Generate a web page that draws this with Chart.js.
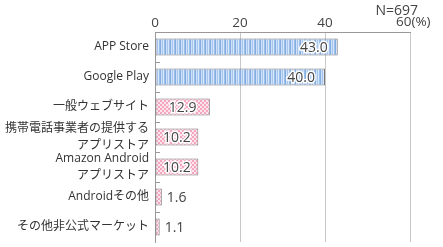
<!DOCTYPE html>
<html lang="ja">
<head>
  <meta charset="UTF-8" />
  <title>アプリ入手先</title>
  <script src="https://cdn.jsdelivr.net/npm/chart.js"></script>
  <style>
    html, body { margin: 0; padding: 0; background: #fff; }
    #wrap { width: 443px; height: 247px; position: relative; }
  </style>
</head>
<body>
  <div id="wrap"><canvas id="appChart"></canvas></div>

  <script>
    // data
    const categories = [
      "APP Store",
      "Google Play",
      "一般ウェブサイト",
      ["携帯電話事業者の提供する", "アプリストア"],
      ["Amazon Android", "アプリストア"],
      "Androidその他",
      "その他非公式マーケット"
    ];
    const shares = [43.0, 40.0, 12.9, 10.2, 10.2, 1.6, 1.1];
    const xTicks = [0, 20, 40, 60];
    const unitLabel = "(%)";
    const sampleNote = "N=697";

    const FONT = "'Open Sans', 'Noto Sans CJK JP', sans-serif";

    // stripe / dot fills
    function makePattern(kind) {
      const c = document.createElement("canvas");
      const g = c.getContext("2d");
      if (kind === "blue") {
        const cols = ["#86ade0", "#cfe1f8", "#a6c6ee", "#d8e7f9", "#9abfea"];
        c.width = cols.length; c.height = 4;
        cols.forEach((col, i) => { g.fillStyle = col; g.fillRect(i, 0, 1, 4); });
      } else {
        c.width = 4; c.height = 4;
        g.fillStyle = "#fde4ec"; g.fillRect(0, 0, 4, 4);
        g.fillStyle = "#f3a6bd";
        g.fillRect(0, 0, 2, 2); g.fillRect(2, 2, 2, 2);
      }
      return g.createPattern(c, "repeat");
    }
    const bluePat = makePattern("blue");
    const pinkPat = makePattern("pink");

    // short tick marks on the category axis
    const catTicks = {
      id: "catTicks",
      afterDraw(chart) {
        const ctx = chart.ctx, y = chart.scales.y, left = chart.chartArea.left;
        ctx.save();
        ctx.strokeStyle = "#999";
        ctx.lineWidth = 1;
        for (let i = 1; i < categories.length; i++) {
          const p = Math.round((y.getPixelForTick(i - 1) + y.getPixelForTick(i)) / 2) + 0.5;
          ctx.beginPath();
          ctx.moveTo(left, p);
          ctx.lineTo(left + 5, p);
          ctx.stroke();
        }
        ctx.restore();
      }
    };

    // values on the bars, N and unit
    const barText = {
      id: "barText",
      afterDatasetsDraw(chart) {
        const ctx = chart.ctx;
        const meta = chart.getDatasetMeta(0);
        ctx.save();
        ctx.font = "14px " + FONT;
        ctx.textBaseline = "middle";
        meta.data.forEach((bar, i) => {
          const txt = shares[i].toFixed(1);
          const w = ctx.measureText(txt).width;
          const len = bar.x - bar.base;
          if (len > w + 6) {
            let tx;
            ctx.textAlign = "center";
            if (len > 3 * w) tx = bar.x - 10 - w / 2;
            else tx = (bar.x + bar.base) / 2;
            ctx.lineWidth = 3;
            ctx.strokeStyle = "#fff";
            ctx.lineJoin = "round";
            ctx.strokeText(txt, tx, bar.y + 1);
            ctx.fillStyle = "#444";
            ctx.fillText(txt, tx, bar.y + 1);
          } else {
            ctx.textAlign = "left";
            ctx.fillStyle = "#444";
            ctx.fillText(txt, bar.x + 5, bar.y + 1);
          }
        });
        const area = chart.chartArea;
        const xs = chart.scales.x;
        ctx.font = "14px " + FONT;
        ctx.fillStyle = "#444";
        ctx.textAlign = "right";
        ctx.fillText(sampleNote, area.right + 8, 11);
        ctx.textAlign = "left";
        const lastX = xs.getPixelForValue(xTicks[xTicks.length - 1]);
        ctx.font = "13.5px " + FONT;
        ctx.fillText(String(xTicks[xTicks.length - 1]) + unitLabel, lastX - 14, 22);
        ctx.restore();
      }
    };

    new Chart(document.getElementById("appChart"), {
      type: "bar",
      data: {
        labels: categories,
        datasets: [{
          data: shares,
          backgroundColor: shares.map((v, i) => i < 2 ? bluePat : pinkPat),
          borderColor: "#7a7a7a",
          borderWidth: 1,
          borderSkipped: false,
          barPercentage: 0.57,
          categoryPercentage: 1
        }]
      },
      options: {
        indexAxis: "y",
        responsive: true,
        maintainAspectRatio: false,
        animation: false,
        layout: { padding: { top: 0, right: 33, bottom: 5, left: 0 } },
        plugins: {
          legend: { display: false },
          tooltip: { enabled: false }
        },
        scales: {
          x: {
            position: "top",
            min: 0,
            max: 60,
            afterBuildTicks: s => { s.ticks = xTicks.map(v => ({ value: v })); },
            afterFit: s => { s.height = 32; s.paddingLeft = 0; s.paddingRight = 0; },
            ticks: {
              padding: 1,
              color: "#444",
              font: { family: FONT, size: 13.5 },
              callback: v => v === xTicks[xTicks.length - 1] ? "" : v
            },
            grid: { color: "#c8c8c8", drawTicks: false },
            border: { color: "#999" }
          },
          y: {
            afterFit: s => { s.width = 155; s.paddingTop = 0; s.paddingBottom = 0; },
            grid: { display: false, drawTicks: false },
            border: { color: "#999" },
            ticks: {
              autoSkip: false,
              padding: 6,
              color: "#333",
              font: { family: FONT, size: 12, lineHeight: 1.4 }
            }
          }
        }
      },
      plugins: [catTicks, barText]
    });
  </script>
</body>
</html>
